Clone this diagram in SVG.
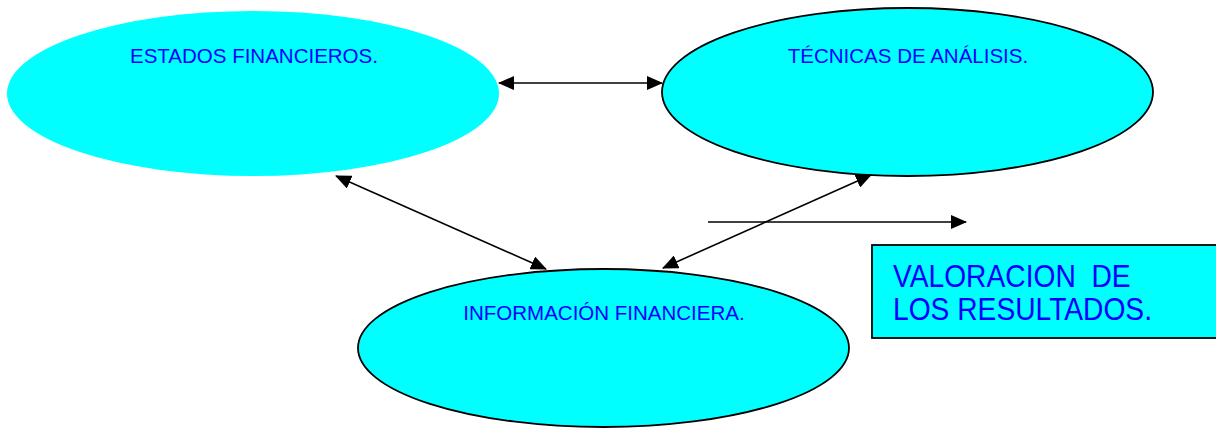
<svg xmlns="http://www.w3.org/2000/svg" width="1216" height="428" viewBox="0 0 1216 428">
<style>
.node{fill:#00FFFF}
.stk{stroke:#000;stroke-width:1.8}
.lbl{font-family:"Liberation Sans",Arial,sans-serif;fill:#0000FF}
.conn{stroke:#000;stroke-width:1.6;fill:none}
</style>
<defs>
<marker id="ah" markerUnits="userSpaceOnUse" markerWidth="16" markerHeight="14" refX="15" refY="7" orient="auto-start-reverse" viewBox="0 0 16 14">
<path d="M0,0 L16,7 L0,14 Z" fill="#000"/>
</marker>
</defs>
<rect width="1216" height="428" fill="#fff"/>
<g id="estados">
<ellipse class="node" cx="253" cy="93.5" rx="246" ry="82.5"/>
<text class="lbl" x="130" y="63" font-size="20.5">ESTADOS FINANCIEROS.</text>
</g>
<g id="tecnicas">
<ellipse class="node stk" cx="907.5" cy="92" rx="245.5" ry="84"/>
<text class="lbl" x="908" y="63" font-size="20.5" text-anchor="middle">TÉCNICAS DE ANÁLISIS.</text>
</g>
<g id="informacion">
<ellipse class="node stk" cx="603.5" cy="348" rx="245.5" ry="79"/>
<text class="lbl" x="604" y="320" font-size="20.5" text-anchor="middle">INFORMACIÓN FINANCIERA.</text>
</g>
<g id="valoracion">
<rect class="node stk" x="872" y="245" width="350" height="93"/>
<text class="lbl" font-size="28.2" xml:space="preserve" transform="translate(893,287) scale(1,1.13)"><tspan x="0" y="0">VALORACION  DE</tspan><tspan x="0" y="29.5">LOS RESULTADOS.</tspan></text>
</g>
<g id="connectors">
<line class="conn" x1="499" y1="83" x2="662" y2="83" marker-start="url(#ah)" marker-end="url(#ah)"/>
<line class="conn" x1="336" y1="176" x2="546" y2="269" marker-start="url(#ah)" marker-end="url(#ah)"/>
<line class="conn" x1="871" y1="175" x2="663" y2="268" marker-start="url(#ah)" marker-end="url(#ah)"/>
<line class="conn" x1="708" y1="222" x2="966" y2="222" marker-end="url(#ah)"/>
</g>
</svg>
